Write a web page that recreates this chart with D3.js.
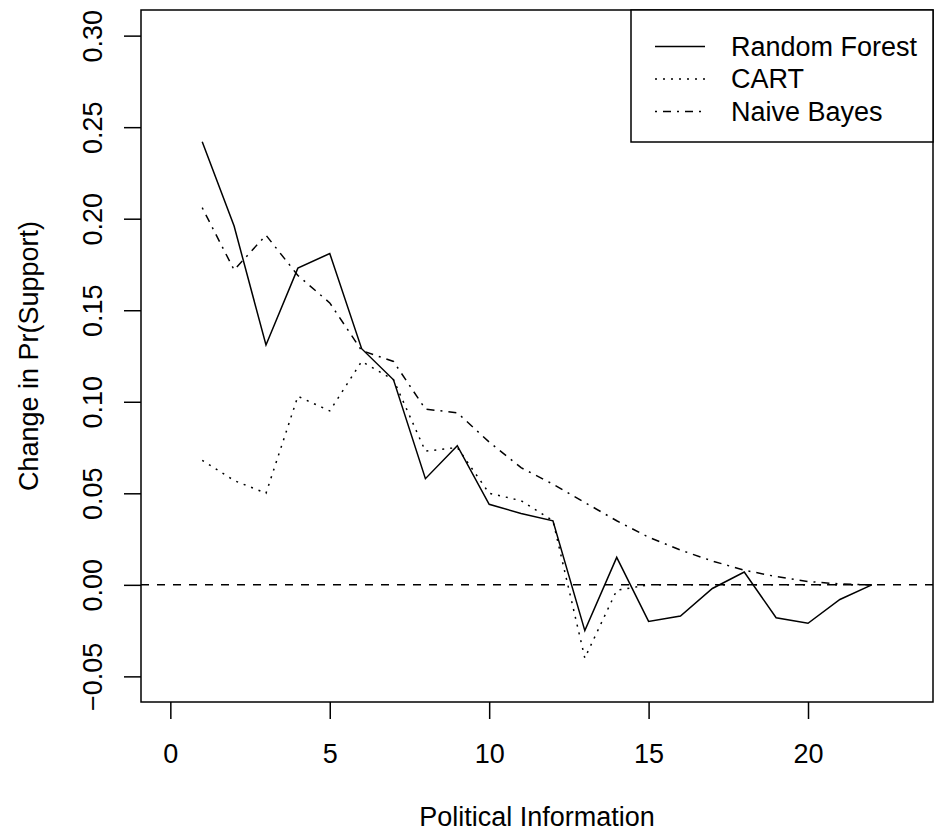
<!DOCTYPE html>
<html>
<head>
<meta charset="utf-8">
<script src="https://cdn.jsdelivr.net/npm/d3@7"></script>
<style>
  body { margin: 0; background: #fff; }
  svg { display: block; font-family: "Liberation Sans", Arial, Helvetica, sans-serif; }
</style>
</head>
<body>
<svg id="chart" width="937" height="839"></svg>
<script>
const infoLevels = [1,2,3,4,5,6,7,8,9,10,11,12,13,14,15,16,17,18,19,20,21,22];
const randomForest = [0.242,0.196,0.131,0.173,0.181,0.129,0.112,0.058,0.076,0.044,0.039,0.035,-0.025,0.015,-0.020,-0.017,-0.002,0.007,-0.018,-0.021,-0.008,0.000];
const cart = [0.068,0.057,0.050,0.103,0.095,0.122,0.112,0.073,0.075,0.050,0.046,0.035,-0.040,-0.003,0.000,0.000,0.000,0.000,0.000,0.000,0.000,0.000];
const naiveBayes = [0.206,0.172,0.191,0.169,0.154,0.128,0.122,0.096,0.094,0.078,0.064,0.055,0.045,0.035,0.026,0.019,0.013,0.008,0.0045,0.0018,0.0005,0.000];
const xTicks = [0,5,10,15,20];
const yTicks = [-0.05,0.00,0.05,0.10,0.15,0.20,0.25,0.30];
const seriesNames = ["Random Forest","CART","Naive Bayes"];
const seriesDash = [null, "2,6", "2,6,8,6"];

const svg = d3.select("#chart");
const L = 141, R = 933, T = 10, B = 702;
const x = d3.scaleLinear().domain([-0.92, 23.92]).range([L, R]);
const y = d3.scaleLinear().domain([-0.064, 0.314]).range([B, T]);
const fs = 27;
const FF = "Liberation Sans, Arial, sans-serif";

// Zero reference line
svg.append("line")
  .attr("x1", L).attr("x2", R)
  .attr("y1", y(0)).attr("y2", y(0))
  .attr("stroke", "#000").attr("stroke-width", 1.5)
  .attr("stroke-dasharray", "8,8");

const line = d3.line().x((d, i) => x(infoLevels[i])).y(d => y(d));
const allSeries = [randomForest, cart, naiveBayes];
allSeries.forEach((s, k) => {
  svg.append("path")
    .datum(s)
    .attr("d", line)
    .attr("fill", "none")
    .attr("stroke", "#000")
    .attr("stroke-width", 1.5)
    .attr("stroke-dasharray", seriesDash[k]);
});

// X axis
const xAxis = d3.axisBottom(x).tickValues(xTicks).tickSize(17).tickFormat(d3.format("d"));
const gx = svg.append("g").attr("transform", `translate(0,${B})`).call(xAxis);
gx.select(".domain").remove();
gx.selectAll("line").attr("stroke-width", 1.5);
gx.selectAll("text")
  .attr("font-size", fs).attr("font-family", FF).attr("fill", "#000")
  .attr("y", 61).attr("dy", 0);

// Y axis
const yAxis = d3.axisLeft(y).tickValues(yTicks).tickSize(17)
  .tickFormat(d => d3.format(".2f")(d).replace("-", "\u2212"));
const gy = svg.append("g").attr("transform", `translate(${L},0)`).call(yAxis);
gy.select(".domain").remove();
gy.selectAll("line").attr("stroke-width", 1.5);
gy.selectAll("text")
  .attr("font-size", fs).attr("font-family", FF).attr("fill", "#000")
  .attr("x", 0).attr("y", 0).attr("dy", 0)
  .attr("text-anchor", "middle")
  .attr("transform", "translate(-39,0) rotate(-90)");

// Plot box
svg.append("rect")
  .attr("x", L).attr("y", T).attr("width", R - L).attr("height", B - T)
  .attr("fill", "none").attr("stroke", "#000").attr("stroke-width", 1.5);

// Axis titles
svg.append("text")
  .attr("x", (L + R) / 2).attr("y", 826)
  .attr("text-anchor", "middle").attr("font-size", fs).attr("font-family", FF)
  .text("Political Information");
svg.append("text")
  .attr("transform", `translate(38,${(T + B) / 2}) rotate(-90)`)
  .attr("text-anchor", "middle").attr("font-size", fs).attr("font-family", FF)
  .text("Change in Pr(Support)");

// Legend
const lg = svg.append("g");
lg.append("rect")
  .attr("x", 631).attr("y", T).attr("width", R - 631).attr("height", 142 - T)
  .attr("fill", "#fff").attr("stroke", "#000").attr("stroke-width", 1.5);
seriesNames.forEach((n, i) => {
  const cy = 46.5 + i * 32.5;
  lg.append("line")
    .attr("x1", 655).attr("x2", 705).attr("y1", cy).attr("y2", cy)
    .attr("stroke", "#000").attr("stroke-width", 1.5)
    .attr("stroke-dasharray", seriesDash[i]);
  lg.append("text")
    .attr("x", 731).attr("y", cy).attr("dy", "0.35em")
    .attr("font-size", fs).attr("font-family", FF).text(n);
});
</script>
</body>
</html>
